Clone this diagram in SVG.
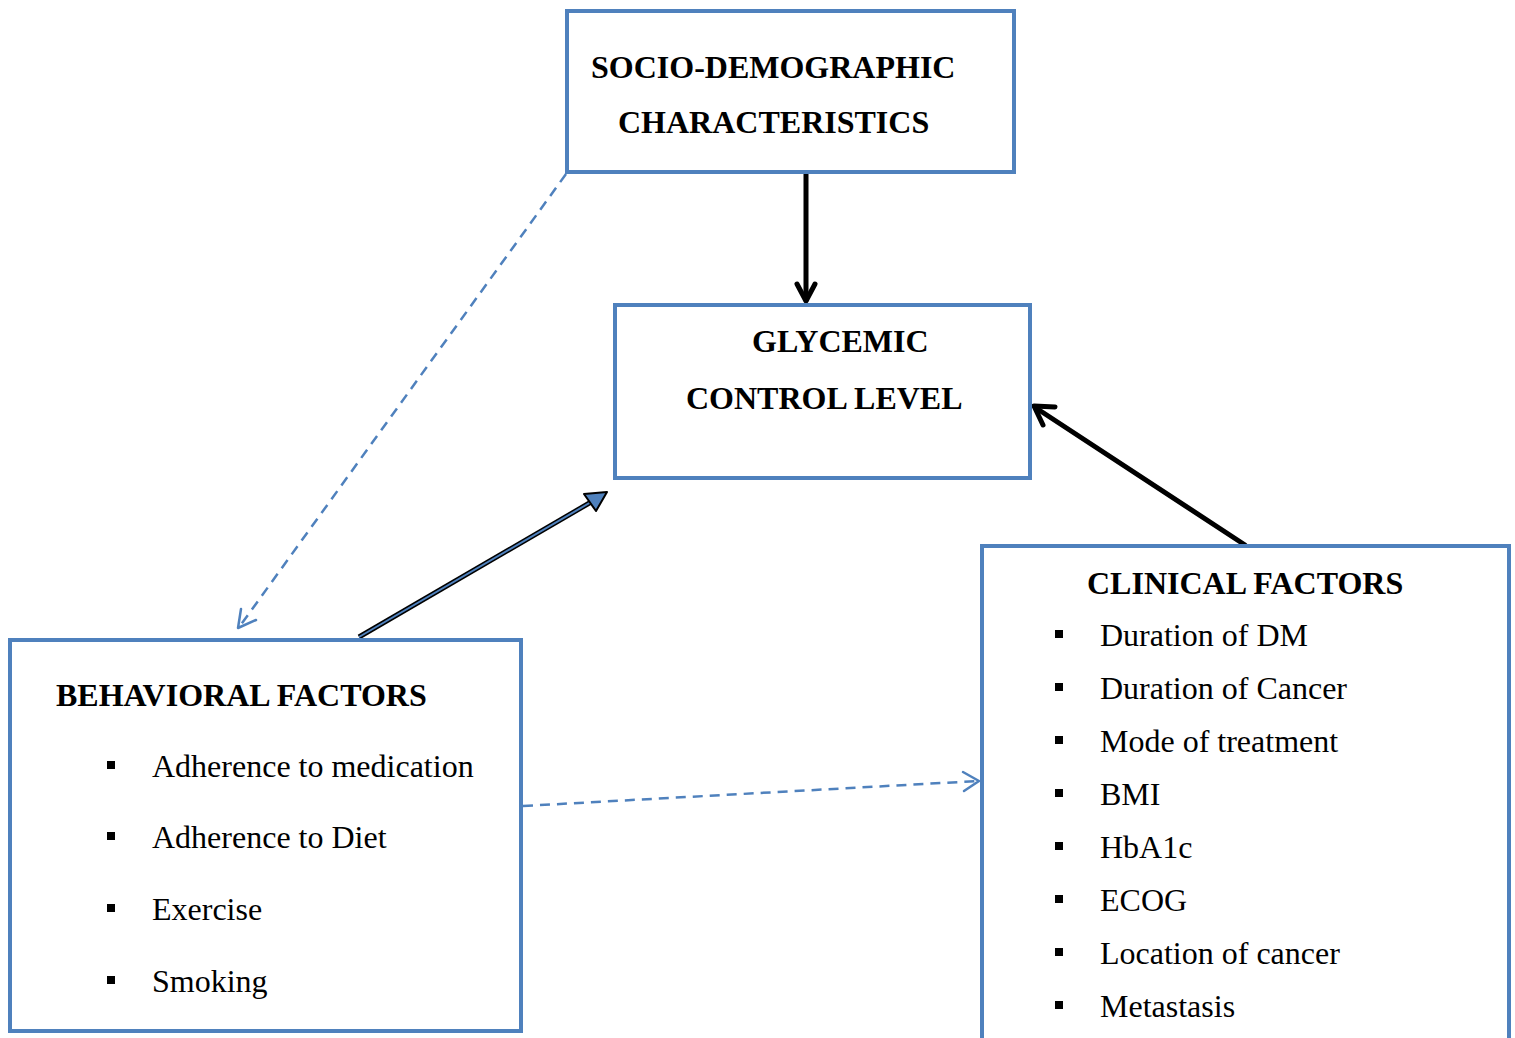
<svg xmlns="http://www.w3.org/2000/svg" width="1515" height="1038" viewBox="0 0 1515 1038">
<style>
.box{fill:#fff;stroke:#4F81BD;stroke-width:4}
.h{font-family:"Liberation Serif","Times New Roman",serif;font-size:32px;font-weight:bold;fill:#000}
.t{font-family:"Liberation Serif","Times New Roman",serif;font-size:32px;fill:#000}
.b{fill:#000}
.blk{stroke:#000;stroke-width:5;fill:none;stroke-linecap:round}
.dash{stroke:#4F81BD;stroke-width:2.5;fill:none;stroke-dasharray:10 7}
.head{stroke-linejoin:round;stroke-linecap:round;fill:none}
</style>
<rect width="1515" height="1038" fill="#fff"/>
<g id="connectors">
  <!-- socio to glycemic -->
  <line class="blk" x1="806" y1="174" x2="806" y2="300"/>
  <polyline class="head" points="797,284 806,301 815,284" stroke="#000" stroke-width="5"/>
  <!-- clinical to glycemic -->
  <line class="blk" x1="1245" y1="545" x2="1036" y2="408"/>
  <polyline class="head" points="1055,407 1034,406 1043,425" stroke="#000" stroke-width="5"/>
  <!-- behavioral to glycemic -->
  <line x1="359" y1="637" x2="598" y2="498" stroke="#000" stroke-width="5"/>
  <line x1="359" y1="637" x2="598" y2="498" stroke="#4F81BD" stroke-width="2"/>
  <polygon points="584,494 607,492 596,511" fill="#4F81BD" stroke="#000" stroke-width="2" stroke-linejoin="round"/>
  <!-- dashed socio to behavioral -->
  <line class="dash" x1="566" y1="174" x2="240" y2="626"/>
  <polyline class="head" points="241,609 238,628 256,620" stroke="#4F81BD" stroke-width="2.5"/>
  <!-- dashed behavioral to clinical -->
  <line class="dash" x1="523" y1="806" x2="978" y2="781"/>
  <polyline class="head" points="963,772 979,781 964,791" stroke="#4F81BD" stroke-width="2.5"/>
</g>
<g id="socio">
  <rect class="box" x="567" y="11" width="447" height="161"/>
  <text class="h" x="591" y="78">SOCIO-DEMOGRAPHIC</text>
  <text class="h" x="618" y="133">CHARACTERISTICS</text>
</g>
<g id="glycemic">
  <rect class="box" x="615" y="305" width="415" height="173"/>
  <text class="h" x="752" y="352">GLYCEMIC</text>
  <text class="h" x="686" y="409">CONTROL LEVEL</text>
</g>
<g id="behavioral">
  <rect class="box" x="10" y="640" width="511" height="391"/>
  <text class="h" x="56" y="706">BEHAVIORAL FACTORS</text>
  <rect class="b" x="107" y="761" width="8" height="8"/>
  <text class="t" x="152" y="777">Adherence to medication</text>
  <rect class="b" x="107" y="832" width="8" height="8"/>
  <text class="t" x="152" y="848">Adherence to Diet</text>
  <rect class="b" x="107" y="904" width="8" height="8"/>
  <text class="t" x="152" y="920">Exercise</text>
  <rect class="b" x="107" y="976" width="8" height="8"/>
  <text class="t" x="152" y="992">Smoking</text>
</g>
<g id="clinical">
  <rect class="box" x="982" y="546" width="527" height="520"/>
  <text class="h" x="1087" y="594">CLINICAL FACTORS</text>
  <rect class="b" x="1055" y="630" width="8" height="8"/>
  <text class="t" x="1100" y="646">Duration of DM</text>
  <rect class="b" x="1055" y="683" width="8" height="8"/>
  <text class="t" x="1100" y="699">Duration of Cancer</text>
  <rect class="b" x="1055" y="736" width="8" height="8"/>
  <text class="t" x="1100" y="752">Mode of treatment</text>
  <rect class="b" x="1055" y="789" width="8" height="8"/>
  <text class="t" x="1100" y="805">BMI</text>
  <rect class="b" x="1055" y="842" width="8" height="8"/>
  <text class="t" x="1100" y="858">HbA1c</text>
  <rect class="b" x="1055" y="895" width="8" height="8"/>
  <text class="t" x="1100" y="911">ECOG</text>
  <rect class="b" x="1055" y="948" width="8" height="8"/>
  <text class="t" x="1100" y="964">Location of cancer</text>
  <rect class="b" x="1055" y="1001" width="8" height="8"/>
  <text class="t" x="1100" y="1017">Metastasis</text>
</g>
</svg>
